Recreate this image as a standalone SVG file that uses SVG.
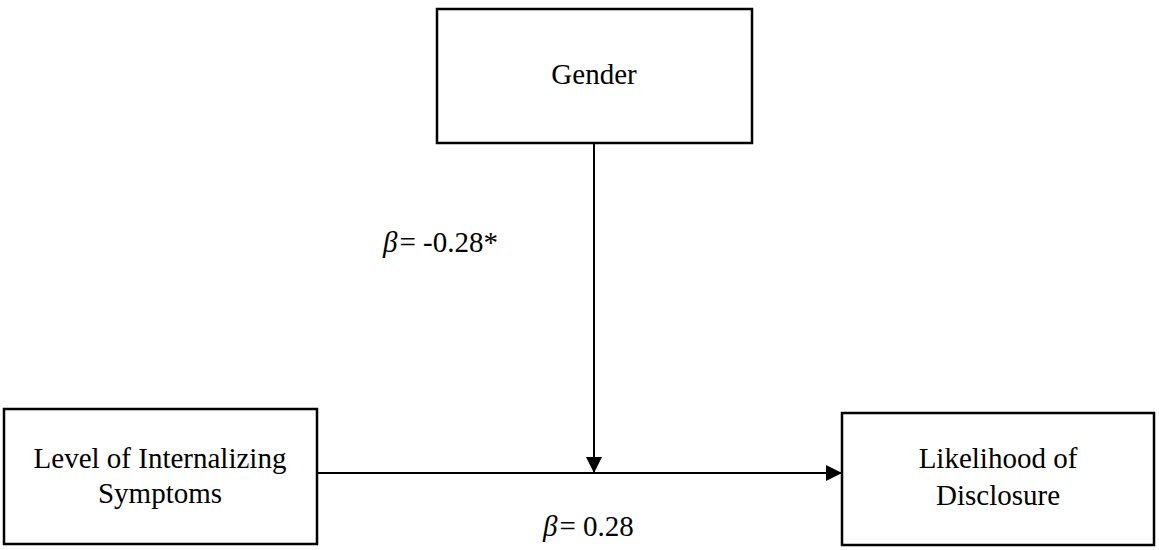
<svg xmlns="http://www.w3.org/2000/svg" width="1159" height="550" viewBox="0 0 1159 550">
<style>
.box{fill:#fff;stroke:#000;stroke-width:2.5}
.lbl{font-family:"Liberation Serif","Times New Roman",serif;font-size:29px;fill:#000;text-anchor:middle}
.coef{font-family:"Liberation Serif","Times New Roman",serif;font-size:29px;fill:#000}
.ln{stroke:#000;stroke-width:2;fill:none}
</style>
<defs>
<marker id="ah" viewBox="0 0 16 16" refX="16" refY="8" markerWidth="16" markerHeight="16" markerUnits="userSpaceOnUse" orient="auto">
<path d="M0,0 L16,8 L0,16 Z" fill="#000"/>
</marker>
</defs>
<rect width="1159" height="550" fill="#fff"/>
<g id="connectors">
<line class="ln" x1="317" y1="473" x2="842" y2="473" marker-end="url(#ah)"/>
<line class="ln" x1="594" y1="143" x2="594" y2="473" marker-end="url(#ah)"/>
</g>
<g id="gender">
<rect class="box" x="437" y="9" width="315" height="134"/>
<text class="lbl" x="594" y="84">Gender</text>
</g>
<g id="internalizing">
<rect class="box" x="4" y="409" width="313" height="135"/>
<text class="lbl" x="160" y="468">Level of Internalizing</text>
<text class="lbl" x="160" y="503">Symptoms</text>
</g>
<g id="disclosure">
<rect class="box" x="842" y="413" width="312" height="132"/>
<text class="lbl" x="998" y="468">Likelihood of</text>
<text class="lbl" x="998" y="505">Disclosure</text>
</g>
<g id="labels">
<text class="coef" x="383" y="252"><tspan font-style="italic">β</tspan><tspan dx="2">= -0.28*</tspan></text>
<text class="coef" x="543" y="536"><tspan font-style="italic">β</tspan><tspan dx="2">= 0.28</tspan></text>
</g>
</svg>
